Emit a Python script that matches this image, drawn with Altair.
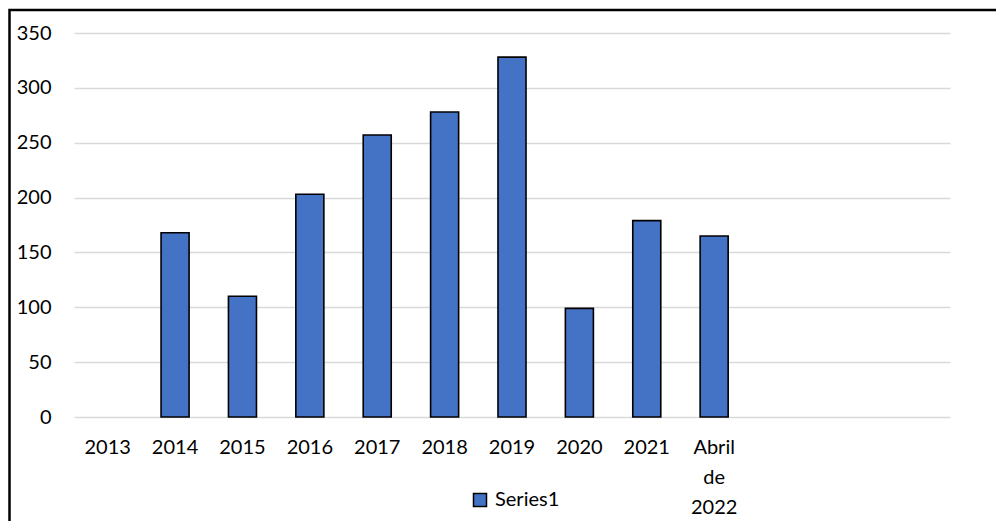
import altair as alt
import pandas as pd

categories = ["2013", "2014", "2015", "2016", "2017", "2018", "2019", "2020", "2021", "Abril de 2022"]
values = [0, 168, 110, 203, 257, 278, 328, 99, 179, 165]
empty_slots = [" ", "  ", "   "]
series_name = "Series1"
y_ticks = [0, 50, 100, 150, 200, 250, 300, 350]

df = pd.DataFrame({"cat": categories, "value": values, "series": [series_name] * len(categories)})
domain = categories + empty_slots

FONT = "Lato"
FS = 20

bars = (
    alt.Chart(df)
    .transform_filter("datum.value > 0")
    .mark_bar(width=alt.RelativeBandSize(0.416), stroke="black", strokeWidth=1.6)
    .encode(
        x=alt.X(
            "cat:N",
            scale=alt.Scale(domain=domain, paddingInner=0, paddingOuter=0),
            sort=domain,
            axis=alt.Axis(
                title=None,
                labelAngle=0,
                domain=False,
                ticks=False,
                grid=False,
                labelPadding=20,
                labelLineHeight=30,
                labelOverlap=False,
                labelFont=FONT,
                labelFontSize=FS,
                labelColor="#000000",
                labelExpr="datum.value == 'Abril de 2022' ? ['Abril', 'de', '2022'] : datum.value",
            ),
        ),
        y=alt.Y(
            "value:Q",
            scale=alt.Scale(domain=[0, 350], nice=False),
            axis=alt.Axis(
                title=None,
                values=y_ticks,
                domain=False,
                ticks=False,
                labelPadding=23,
                labelFont=FONT,
                labelFontSize=FS,
                labelColor="#000000",
                gridColor="#d9d9d9",
                gridWidth=1.3,
            ),
        ),
        color=alt.Color(
            "series:N",
            scale=alt.Scale(domain=[series_name], range=["#4472C4"]),
            legend=alt.Legend(
                title=None,
                orient="none",
                legendX=396,
                legendY=457,
                symbolType="square",
                symbolSize=169,
                symbolStrokeColor="black",
                symbolStrokeWidth=1.5,
                symbolFillColor="#4472C4",
                labelFont=FONT,
                labelFontSize=FS,
                labelColor="#000000",
                labelOffset=5,
            ),
        ),
    )
)

border = (
    alt.Chart(pd.DataFrame({"b": [0]}))
    .mark_rect(fillOpacity=0, stroke="black", strokeWidth=2.5)
    .encode(
        x=alt.value(-64.5),
        x2=alt.value(3000),
        y=alt.value(-23),
        y2=alt.value(3000),
    )
)

chart = (
    alt.layer(bars, border)
    .properties(
        width=876,
        height=384,
        background="white",
        autosize=alt.AutoSizeParams(type="none"),
        padding={"left": 66, "top": 25, "right": 46, "bottom": 104},
    )
    .configure_view(stroke="transparent", strokeWidth=0)
)

chart.save("out.html", embed_options={"renderer": "svg", "actions": False})
